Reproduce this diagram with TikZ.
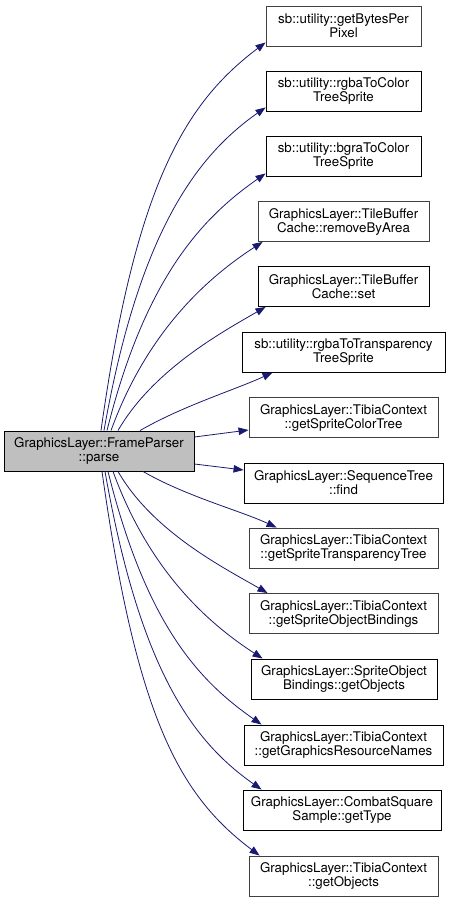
\documentclass[tikz,border=0pt]{standalone}
\usepackage{fontspec}
\setmainfont{TeX Gyre Heros}
\usepackage{tikz}
\usetikzlibrary{arrows.meta}
\definecolor{edgeblue}{HTML}{191970}
\definecolor{framegray}{HTML}{404040}
\definecolor{maingray}{HTML}{BFBFBF}

\begin{document}
\begin{tikzpicture}[x=1pt, y=1pt,
  every node/.style={font=\fontsize{13.3}{14}\selectfont, align=center, inner sep=0pt},
  callee/.style={draw=black, line width=0.9pt, fill=white, minimum height=40pt},
  linked/.style={callee, draw=framegray},
  call/.style={draw=edgeblue, line width=0.8pt, -{Triangle[length=10pt, width=7.5pt]}}]
  \useasboundingbox (0,0) rectangle (451,-901);
  % caller
  \node[callee, fill=maingray, minimum width=190pt] (parse) at (99,-451) {GraphicsLayer::FrameParser\\::parse};
  % callees
  \node[linked, minimum width=155pt] (bytes) at (343.5,-26) {sb::utility::getBytesPer\\Pixel};
  \node[callee, minimum width=155pt] (rgbacolor) at (343.5,-91) {sb::utility::rgbaToColor\\TreeSprite};
  \node[callee, minimum width=155pt] (bgracolor) at (343.5,-156) {sb::utility::bgraToColor\\TreeSprite};
  \node[linked, minimum width=171pt] (remove) at (343.5,-221.5) {GraphicsLayer::TileBuffer\\Cache::removeByArea};
  \node[callee, minimum width=171pt] (cacheset) at (343.5,-286.5) {GraphicsLayer::TileBuffer\\Cache::set};
  \node[callee, minimum width=203pt] (rgbatrans) at (343.5,-352) {sb::utility::rgbaToTransparency\\TreeSprite};
  \node[linked, minimum width=189pt] (colortree) at (343.5,-417.5) {GraphicsLayer::TibiaContext\\::getSpriteColorTree};
  \node[callee, minimum width=199pt] (find) at (343.5,-483) {GraphicsLayer::SequenceTree\\::find};
  \node[linked, minimum width=189pt] (transtree) at (343.5,-548) {GraphicsLayer::TibiaContext\\::getSpriteTransparencyTree};
  \node[linked, minimum width=189pt] (bindings) at (343.5,-613.5) {GraphicsLayer::TibiaContext\\::getSpriteObjectBindings};
  \node[callee, minimum width=186pt] (bindobjs) at (344,-679) {GraphicsLayer::SpriteObject\\Bindings::getObjects};
  \node[callee, minimum width=199pt] (resnames) at (343.5,-745) {GraphicsLayer::TibiaContext\\::getGraphicsResourceNames};
  \node[callee, minimum width=198pt] (gettype) at (342,-810) {GraphicsLayer::CombatSquare\\Sample::getType};
  \node[linked, minimum width=189pt] (objects) at (343.5,-876) {GraphicsLayer::TibiaContext\\::getObjects};
  % calls
  \draw[call] ([xshift=2pt]parse.north) .. controls +(82:250) and +(217:100) .. ([yshift=4pt]bytes.south west);
  \draw[call] ([xshift=5pt]parse.north) .. controls +(80:200) and +(215:85) .. ([yshift=4pt]rgbacolor.south west);
  \draw[call] ([xshift=8pt]parse.north) .. controls +(76:160) and +(215:75) .. ([yshift=3pt]bgracolor.south west);
  \draw[call] ([xshift=12pt]parse.north) .. controls +(70:110) and +(213:60) .. ([xshift=5pt]remove.south west);
  \draw[call] ([xshift=19pt]parse.north) .. controls +(60:70) and +(210:50) .. ([xshift=8pt]cacheset.south west);
  \draw[call] ([xshift=41pt]parse.north) .. controls +(30:50) and +(205:40) .. ([xshift=31pt]rgbatrans.south west);
  \draw[call] ([yshift=14pt]parse.east) -- ([yshift=-12.5pt]colortree.west);
  \draw[call] ([yshift=-13pt]parse.east) -- ([yshift=13pt]find.west);
  \draw[call] ([xshift=44pt]parse.south) .. controls +(-30:50) and +(155:40) .. ([xshift=28pt]transtree.north west);
  \draw[call] ([xshift=19pt]parse.south) .. controls +(-60:70) and +(150:50) .. ([xshift=19pt]bindings.north west);
  \draw[call] ([xshift=14pt]parse.south) .. controls +(-70:110) and +(147:60) .. ([xshift=12pt]bindobjs.north west);
  \draw[call] ([xshift=9pt]parse.south) .. controls +(-76:160) and +(145:75) .. ([xshift=18pt]resnames.north west);
  \draw[call] ([xshift=6pt]parse.south) .. controls +(-80:200) and +(145:85) .. ([xshift=19pt]gettype.north west);
  \draw[call] ([xshift=3pt]parse.south) .. controls +(-82:250) and +(143:100) .. ([xshift=11pt]objects.north west);
\end{tikzpicture}
\end{document}
